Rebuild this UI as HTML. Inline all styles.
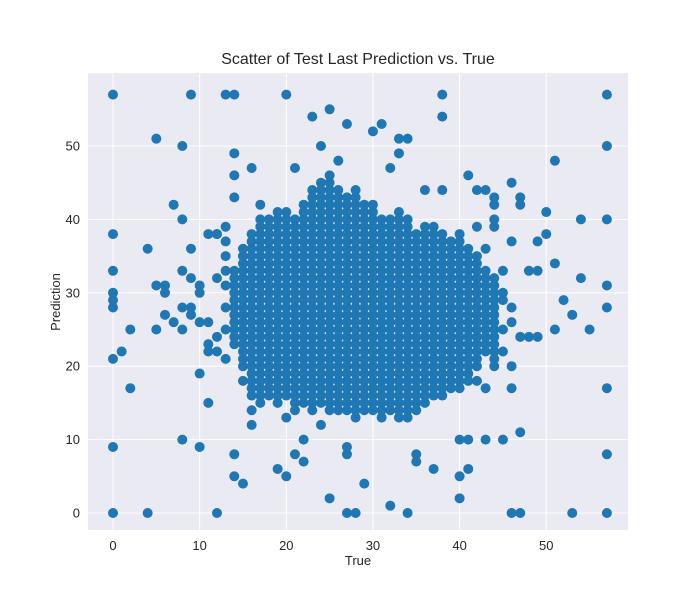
<!DOCTYPE html>
<html><head><meta charset="utf-8"><style>
body{margin:0;background:#fff;font-family:"Liberation Sans",sans-serif}
svg text{font-family:"Liberation Sans",sans-serif;fill:#262626}
</style></head><body>
<svg id="chart" width="700" height="600" xmlns="http://www.w3.org/2000/svg">
<rect width="700" height="600" fill="#fff"/>
<rect x="88" y="73" width="540" height="457" fill="#eaeaf2"/>
<g id="grid"></g><g id="pts"></g><g id="ticks"></g>
<text x="358" y="64" font-size="16" text-anchor="middle">Scatter of Test Last Prediction vs. True</text>
<text x="358" y="565" font-size="13" text-anchor="middle">True</text>
<text x="0" y="0" font-size="13" text-anchor="middle" transform="translate(60,302) rotate(-90)">Prediction</text>
</svg>
<script>
const xTicks=[0,10,20,30,40,50];
const yTicks=[0,10,20,30,40,50];
// dense columns: true value, min prediction, max prediction
const colX=[14,15,16,17,18,19,20,21,22,23,24,25,26,27,28,29,30,31,32,33,34,35,36,37,38,39,40,41,42,43,44];
const colMin=[23,20,16,15,16,15,16,14,15,14,15,14,14,14,13,14,14,13,14,13,13,14,15,16,16,17,17,18,20,22,21];
const colMax=[33,36,38,40,40,41,41,40,42,44,45,46,44,43,44,42,42,40,40,41,40,38,39,39,38,37,38,36,35,33,32];
const outX=[0,0,0,0,0,0,0,0,0,1,2,2,4,4,5,5,5,6,6,6,7,7,8,8,8,8,8,8,9,9,9,9,9,10,10,10,10,10,11,11,11,11,11,12,12,12,12,12,13,13,13,13,13,13,13,14,14,14,14,14,14,15,15,16,16,16,17,19,20,20,21,21,22,23,24,25,25,26,27,27,27,27,28,29,30,31,32,32,33,33,34,34,35,35,36,37,38,38,38,40,40,40,41,41,41,42,43,43,44,44,45,45,46,46,46,46,47,47,47,47,48,49,49,49,50,50,51,51,51,52,53,53,54,54,55,57,57,57,57,57,57,57,57,43,43,44,45,45,45,46,46,47,48,44,42,42,43,13,12,13,20,22,24,44,45,46];
const outY=[57,38,33,30,29,28,21,9,0,22,25,17,36,0,51,31,25,31,30,27,42,26,50,40,33,28,25,10,57,36,32,28,27,31,30,26,19,9,38,26,23,22,15,38,32,24,22,0,57,39,33,31,28,25,21,57,49,46,43,8,5,18,4,47,14,12,42,6,57,5,47,8,7,54,50,55,2,48,53,9,8,0,0,4,52,53,1,47,51,49,51,0,8,7,44,6,57,54,44,5,2,10,46,6,10,44,10,44,40,39,10,33,45,37,17,0,43,42,11,0,33,37,33,24,41,38,48,34,25,29,27,0,40,32,25,57,50,40,31,28,17,8,0,36,26,20,29,25,22,26,20,24,24,43,39,18,17,35,38,37,13,10,12,42,30,28];
const X=v=>113+(v-0)*8.665, Y=v=>513-v*7.34;
const ns="http://www.w3.org/2000/svg";
const g=document.getElementById('grid'),t=document.getElementById('ticks'),p=document.getElementById('pts');
function mk(tag,a,par){const e=document.createElementNS(ns,tag);for(const k in a)e.setAttribute(k,a[k]);par.appendChild(e);return e;}
xTicks.forEach(v=>{
 const l=mk('line',{x1:X(v),x2:X(v),y1:73,y2:530,stroke:'#fff','stroke-width':1},g);
 
 
 const tx=mk('text',{x:X(v),y:550,'font-size':13,'text-anchor':'middle'},t);tx.textContent=v;
 
 
});
yTicks.forEach(v=>{
 const l=mk('line',{x1:88,x2:628,y1:Y(v),y2:Y(v),stroke:'#fff','stroke-width':1},g);
 
 
 const tx=mk('text',{x:80,y:Y(v)+4.5,'font-size':13,'text-anchor':'end'},t);tx.textContent=v;
 
 
});
function dot(x,y){const c=mk('circle',{cx:X(x),cy:Y(y),r:5,fill:'#1f77b4'},p);
 
 }
colX.forEach((x,i)=>{for(let y=colMin[i];y<=colMax[i];y++)dot(x,y);});
outX.forEach((x,i)=>dot(x,outY[i]));
</script>
</body></html>
